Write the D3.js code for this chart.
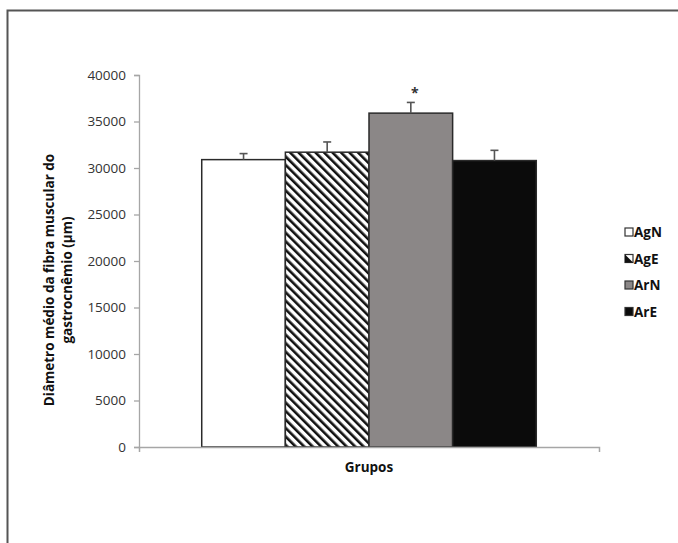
<!DOCTYPE html>
<html>
<head>
<meta charset="utf-8">
<script src="https://cdn.jsdelivr.net/npm/d3@7"></script>
<style>
  body { margin: 0; background: #fff; }
  svg { display: block; font-family: 'Open Sans', sans-serif; }
</style>
</head>
<body>
<div id="chart"></div>
<script>
const groups = ['AgN', 'AgE', 'ArN', 'ArE']
const means = [30900, 31700, 35900, 30800]
const errors = [650, 1100, 1150, 1100]
const marks = ['', '', '*', '']
const yTicks = [0, 5000, 10000, 15000, 20000, 25000, 30000, 35000, 40000]

const width = 678
const height = 543

const svg = d3
  .select('#chart')
  .append('svg')
  .attr('width', width)
  .attr('height', height)

// hatch pattern for AgE, stripes running top-left to bottom-right
const defs = svg.append('defs')
const hatch = defs
  .append('pattern')
  .attr('id', 'hatch')
  .attr('patternUnits', 'userSpaceOnUse')
  .attr('width', 6)
  .attr('height', 6)
  .attr('patternTransform', 'rotate(-45)')
hatch.append('rect').attr('width', 6).attr('height', 6).attr('fill', '#fff')
hatch
  .append('rect')
  .attr('x', 0)
  .attr('width', 2.6)
  .attr('height', 6)
  .attr('fill', '#111')

const fills = { AgN: '#ffffff', AgE: 'url(#hatch)', ArN: '#8b8787', ArE: '#0b0b0b' }

// frame (top + left)
svg
  .append('path')
  .attr('d', `M7.5,${height} L7.5,10.5 L${width},10.5`)
  .attr('fill', 'none')
  .attr('stroke', '#555')
  .attr('stroke-width', 2)

const plot = { left: 139, right: 599, top: 75, bottom: 447 }

const yScale = d3
  .scaleLinear()
  .domain([0, 40000])
  .range([plot.bottom, plot.top])

const xOuter = d3
  .scaleBand()
  .domain(['Grupos'])
  .range([plot.left, plot.right])

const xScale = d3
  .scaleBand()
  .domain(groups)
  .range([plot.left, plot.right])
  .paddingInner(0)
  .paddingOuter(0.75)

// y axis
svg
  .append('g')
  .attr('class', 'y-axis')
  .attr('transform', `translate(${plot.left}, 0)`)
  .call(
    d3
      .axisLeft(yScale)
      .tickValues(yTicks)
      .tickFormat(d3.format('d'))
      .tickSize(5)
      .tickPadding(8),
  )
  .call(g => {
    g.select('.domain').attr('stroke', '#a6a6a6').attr('stroke-width', 1.3)
    g.selectAll('.tick line').attr('stroke', '#a6a6a6').attr('stroke-width', 1.3)
    g.selectAll('.tick text')
      .attr('fill', '#333')
      .style('font-size', '13.5px')
      .style('font-family', "'Open Sans', sans-serif")
  })

// bars
svg
  .selectAll('rect.bar')
  .data(groups)
  .join('rect')
  .attr('class', 'bar')
  .attr('x', d => xScale(d))
  .attr('y', (d, i) => yScale(means[i]))
  .attr('width', xScale.bandwidth())
  .attr('height', (d, i) => yScale(0) - yScale(means[i]))
  .attr('fill', d => fills[d])
  .attr('stroke', '#2a2a2a')
  .attr('stroke-width', 1.5)

// x axis (drawn over bar bottoms)
svg
  .append('g')
  .attr('class', 'x-axis')
  .attr('transform', `translate(0, ${plot.bottom})`)
  .call(d3.axisBottom(xOuter).tickValues([]).tickSizeOuter(5))
  .call(g => {
    g.select('.domain').attr('stroke', '#a6a6a6').attr('stroke-width', 1.5)
  })

// error bars (upper only)
const errG = svg
  .selectAll('g.err')
  .data(groups)
  .join('g')
  .attr('class', 'err')
  .attr('transform', d => `translate(${xScale(d) + xScale.bandwidth() / 2}, 0)`)

errG
  .append('line')
  .attr('y1', (d, i) => yScale(means[i]))
  .attr('y2', (d, i) => yScale(means[i] + errors[i]))
  .attr('stroke', '#555')
  .attr('stroke-width', 1.6)

errG
  .append('line')
  .attr('x1', -4)
  .attr('x2', 4)
  .attr('y1', (d, i) => yScale(means[i] + errors[i]))
  .attr('y2', (d, i) => yScale(means[i] + errors[i]))
  .attr('stroke', '#555')
  .attr('stroke-width', 1.6)

errG
  .append('text')
  .attr('x', 4)
  .attr('y', (d, i) => yScale(means[i] + errors[i]) - 4)
  .attr('text-anchor', 'middle')
  .style('font-size', '14px')
  .style('font-weight', 'bold')
  .attr('fill', '#333')
  .text((d, i) => marks[i])

// x axis label
svg
  .append('text')
  .attr('x', (plot.left + plot.right) / 2)
  .attr('y', 472)
  .attr('text-anchor', 'middle')
  .style('font-size', '13.5px')
  .style('font-weight', 'bold')
  .attr('fill', '#111')
  .text('Grupos')

// y axis label
const yLabel = svg
  .append('text')
  .attr('transform', 'translate(54, 280) rotate(-90)')
  .attr('text-anchor', 'middle')
  .style('font-size', '13.5px')
  .style('font-weight', 'bold')
  .attr('fill', '#111')
yLabel.append('tspan').attr('x', 0).attr('dy', 0).text('Diâmetro médio da fibra muscular do')
yLabel.append('tspan').attr('x', 0).attr('dy', 18).text('gastrocnêmio (µm)')

// legend
const legend = svg
  .selectAll('g.legend')
  .data(groups)
  .join('g')
  .attr('class', 'legend')
  .attr('transform', (d, i) => `translate(625, ${232 + i * 26.5})`)

legend
  .append('rect')
  .attr('x', 0)
  .attr('y', -4)
  .attr('width', 8)
  .attr('height', 8)
  .attr('fill', d => (d === 'AgE' ? '#fff' : fills[d]))
  .attr('stroke', '#333')
  .attr('stroke-width', 1.2)

legend
  .filter(d => d === 'AgE')
  .append('path')
  .attr('d', 'M0,-4 L8,4 L0,4 Z')
  .attr('fill', '#111')

legend
  .append('text')
  .attr('x', 9)
  .attr('y', 0)
  .attr('dominant-baseline', 'central')
  .style('font-size', '13.5px')
  .style('font-weight', 'bold')
  .attr('fill', '#111')
  .text(d => d)
</script>
</body>
</html>
